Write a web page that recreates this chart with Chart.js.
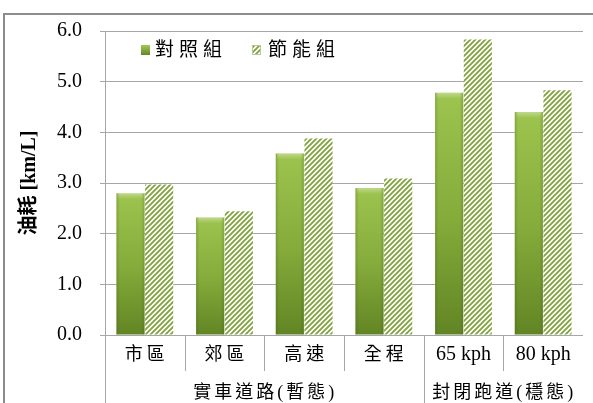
<!DOCTYPE html>
<html><head><meta charset="utf-8">
<script src="https://cdn.jsdelivr.net/npm/chart.js@4"></script>
<style>html,body{margin:0;padding:0;background:#fff;overflow:hidden}</style>
</head><body>
<canvas id="c" width="593" height="403"></canvas>
<script>
const categories = ['市區', '郊區', '高速', '全程', '65 kph', '80 kph'];
const groupLabels = ['實車道路(暫態)', '封閉跑道(穩態)'];
const groupSpans = [[0, 3], [4, 5]];
const seriesNames = ['對照組', '節能組'];
const controlValues = [2.80, 2.32, 3.58, 2.90, 4.78, 4.40];
const savingValues = [2.97, 2.44, 3.88, 3.09, 5.83, 4.83];
const yMin = 0, yMax = 6, yStep = 1;

const FONT = "'Liberation Serif', 'Noto Sans CJK TC', serif";
const GRID = '#a6a6a6';

const canvas = document.getElementById('c');
const g = canvas.getContext('2d');

function makeHatch() {
  const s = 5;
  const c = document.createElement('canvas');
  c.width = s; c.height = s;
  const x = c.getContext('2d');
  x.fillStyle = '#ffffff'; x.fillRect(0, 0, s, s);
  x.strokeStyle = '#82a33f'; x.lineWidth = 1.9;
  x.beginPath();
  x.moveTo(-1, s + 1); x.lineTo(s + 1, -1);
  x.moveTo(-1, 1); x.lineTo(1, -1);
  x.moveTo(s - 1, s + 1); x.lineTo(s + 1, s - 1);
  x.stroke();
  return g.createPattern(c, 'repeat');
}
const hatch = makeHatch();

function greenFill(ctx) {
  const chart = ctx.chart;
  if (!chart.chartArea || ctx.raw === undefined) return '#7fa53a';
  const ys = chart.scales.y;
  const top = ys.getPixelForValue(ctx.raw);
  const base = ys.getPixelForValue(0);
  const gr = chart.ctx.createLinearGradient(0, top, 0, base);
  gr.addColorStop(0, '#9dc44e');
  gr.addColorStop(0.5, '#86ad3c');
  gr.addColorStop(1, '#628524');
  return gr;
}

const decor = {
  id: 'decor',
  beforeDraw(chart) {
    const c = chart.ctx;
    c.save();
    c.strokeStyle = '#8c8c8c';
    c.lineWidth = 2;
    c.beginPath();
    c.moveTo(4, 404); c.lineTo(4, 14); c.lineTo(594, 14);
    c.stroke();
    c.restore();
  },
  afterDatasetsDraw(chart) {
    const c = chart.ctx;
    const meta = chart.getDatasetMeta(0);
    c.save();
    meta.data.forEach(b => {
      const w = b.width, x0 = b.x - w / 2, y0 = b.y, h = b.base - b.y;
      const gr = c.createLinearGradient(0, y0, 0, y0 + 6);
      gr.addColorStop(0, 'rgba(255,255,255,0.35)');
      gr.addColorStop(1, 'rgba(255,255,255,0)');
      c.fillStyle = gr;
      c.fillRect(x0 + 1, y0, w - 2, 6);
      const sg = c.createLinearGradient(x0, 0, x0 + w, 0);
      sg.addColorStop(0, 'rgba(60,80,20,0.25)');
      sg.addColorStop(0.12, 'rgba(60,80,20,0)');
      sg.addColorStop(0.88, 'rgba(60,80,20,0)');
      sg.addColorStop(1, 'rgba(60,80,20,0.25)');
      c.fillStyle = sg;
      c.fillRect(x0, y0, w, h);
    });
    c.restore();
  },
  afterDraw(chart) {
    const c = chart.ctx;
    const xs = chart.scales.x;
    const area = chart.chartArea;
    const n = categories.length;
    const half = (xs.getPixelForValue(1) - xs.getPixelForValue(0)) / 2;
    const bottom = area.bottom;
    c.save();
    c.strokeStyle = GRID;
    c.lineWidth = 1;
    const groupStarts = groupSpans.map(s => s[0]);
    for (let i = 0; i < n; i++) {
      const bx = Math.round(xs.getPixelForValue(i) - half) + 0.5;
      const full = groupStarts.includes(i);
      c.beginPath();
      c.moveTo(bx, bottom);
      c.lineTo(bx, full ? 403 : 371);
      c.stroke();
    }
    c.fillStyle = '#000';
    c.textAlign = 'center';
    c.textBaseline = 'middle';
    categories.forEach((t, i) => {
      const cjk = /[\u4e00-\u9fff]/.test(t);
      c.font = (cjk ? '18px ' : '20px ') + FONT;
      c.letterSpacing = cjk ? '4px' : '0px';
      c.fillText(t, xs.getPixelForValue(i) + (cjk ? 2 : 0), bottom + 20);
    });
    c.font = '18px ' + FONT;
    c.letterSpacing = '3px';
    groupLabels.forEach((t, k) => {
      const [a, b] = groupSpans[k];
      const x = (xs.getPixelForValue(a) + xs.getPixelForValue(b)) / 2 + 1;
      c.fillText(t, x, bottom + 58);
    });
    // legend
    c.textAlign = 'left';
    c.font = '19px ' + FONT;
    c.letterSpacing = '5px';
    const lx = [141, 252], ly = 50;
    const lg = c.createLinearGradient(0, ly - 5, 0, ly + 5);
    lg.addColorStop(0, '#a3c955'); lg.addColorStop(1, '#63862a');
    c.fillStyle = lg;
    c.fillRect(lx[0], ly - 5, 9, 10);
    c.fillStyle = '#000';
    c.fillText(chart.data.datasets[0].label, lx[0] + 14, ly + 1);
    c.fillStyle = hatch;
    c.fillRect(lx[1], ly - 5, 9, 10);
    c.strokeStyle = '#b8c99a'; c.lineWidth = 1;
    c.strokeRect(lx[1] + 0.5, ly - 4.5, 8, 9);
    c.fillStyle = '#000';
    c.fillText(chart.data.datasets[1].label, lx[1] + 16, ly + 1);
    c.restore();
  }
};

new Chart(canvas, {
  type: 'bar',
  data: {
    labels: categories,
    datasets: [
      { label: seriesNames[0], data: controlValues, backgroundColor: greenFill, borderWidth: 0,
        categoryPercentage: 0.72, barPercentage: 0.98 },
      { label: seriesNames[1], data: savingValues, backgroundColor: hatch, borderWidth: 0,
        categoryPercentage: 0.72, barPercentage: 0.98 }
    ]
  },
  options: {
    responsive: false,
    animation: false,
    layout: { padding: { left: 0, right: 10, top: 31, bottom: 0 } },
    plugins: { legend: { display: false }, tooltip: { enabled: false } },
    scales: {
      x: {
        ticks: { display: false },
        grid: { display: false },
        border: { display: false },
        afterFit(s) { s.height = 68; }
      },
      y: {
        min: yMin, max: yMax,
        ticks: { stepSize: yStep, padding: 18, color: '#000',
          font: { family: FONT, size: 20 },
          callback: v => Number(v).toFixed(1) },
        grid: { color: GRID, tickLength: 5, lineWidth: 1 },
        border: { display: true, color: GRID },
        title: { display: true, text: '油耗 [km/L]', color: '#000',
          font: { family: FONT, size: 20, weight: 'bold' }, padding: { top: 18, bottom: 0 } },
        afterFit(s) { s.width = 105; }
      }
    }
  },
  plugins: [decor]
});
</script>
</body></html>
